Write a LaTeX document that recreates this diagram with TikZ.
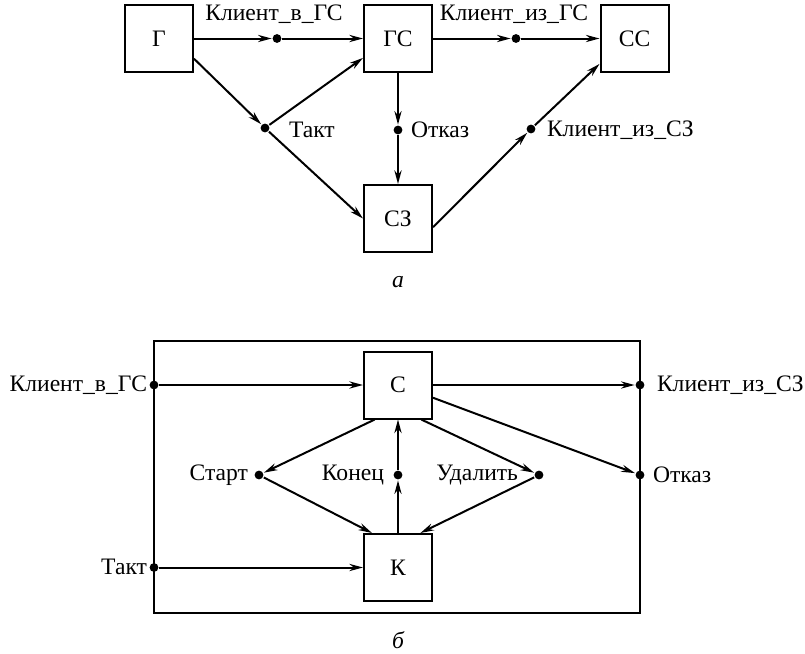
\documentclass[tikz,border=0pt]{standalone}
\usepackage{fontspec}
\setmainfont{Liberation Serif}
\usetikzlibrary{arrows.meta}
\begin{document}
\begin{tikzpicture}[x=0.5pt,y=-0.5pt,line width=1pt,
  blk/.style={draw,minimum width=34pt,minimum height=33.5pt,inner sep=0pt,font=\fontsize{11.8}{13}\selectfont},
  pt/.style={circle,fill,inner sep=0pt,minimum size=4.4pt},
  lbl/.style={inner sep=0pt,font=\fontsize{11.8}{13}\selectfont},
  arr/.style={-{Stealth[length=6.8pt,width=3.6pt]}}]
\useasboundingbox (0,0) rectangle (805,654);

% ---------- a ----------
\node[blk] (G)  at (159,38.5) {Г};
\node[blk] (GS) at (398,38.5) {ГС};
\node[blk] (CC) at (634.5,38.5) {СС};
\node[blk] (SZ) at (398,218.5) {СЗ};

\node[pt] (kvg) at (277,38.5) {};
\node[pt] (kig) at (516,38.5) {};
\node[pt] (takt) at (265,128) {};
\node[pt] (otk) at (398,130) {};
\node[pt] (kiz) at (531,129) {};

\node[lbl] at (274,14) {Клиент\_в\_ГС};
\node[lbl] at (514,14) {Клиент\_из\_ГС};
\node[lbl,anchor=west] at (288,130) {Такт};
\node[lbl,anchor=west] at (410,130) {Отказ};
\node[lbl,anchor=west] at (546,130) {Клиент\_из\_СЗ};
\node[lbl] at (398,282) {\itshape а};

\draw[arr] (G) -- (kvg);
\draw[arr] (kvg) -- (GS);
\draw[arr] (GS) -- (kig);
\draw[arr] (kig) -- (CC);
\draw[arr] (G.-30) -- (takt);
\draw[arr] (takt) -- (GS.209);
\draw[arr] (takt) -- (SZ.west);
\draw[arr] (GS) -- (otk);
\draw[arr] (otk) -- (SZ);
\draw[arr] (SZ.-14) -- (kiz);
\draw[arr] (kiz) -- (CC.216);

% ---------- b ----------
\draw (154,341) rectangle (640,613);
\node[blk] (S) at (398,385) {С};
\node[blk] (K) at (398,567.5) {К};

\node[pt] (bkvg) at (154,385) {};
\node[pt] (bkiz) at (640,385) {};
\node[pt] (botk) at (640,475) {};
\node[pt] (btakt) at (154,567.5) {};
\node[pt] (start) at (259,475) {};
\node[pt] (kon) at (398,475) {};
\node[pt] (udal) at (539,475) {};

\node[lbl,anchor=east] at (148,385) {Клиент\_в\_ГС};
\node[lbl,anchor=west] at (656,385) {Клиент\_из\_СЗ};
\node[lbl,anchor=west] at (652,475) {Отказ};
\node[lbl,anchor=east] at (148,567) {Такт};
\node[lbl,anchor=east] at (249,475) {Старт};
\node[lbl,anchor=east] at (385,475) {Конец};
\node[lbl,anchor=east] at (519,475) {Удалить};
\node[lbl] at (398,640) {\itshape б};

\draw[arr] (bkvg) -- (S);
\draw[arr] (S) -- (bkiz);
\draw[arr] (S.-20) -- (botk);
\draw[arr] (S.236) -- (start);
\draw[arr] (start) -- (K.127);
\draw[arr] (K) -- (kon);
\draw[arr] (kon) -- (S);
\draw[arr] (S.-56) -- (udal);
\draw[arr] (udal) -- (K.57);
\draw[arr] (btakt) -- (K);
\end{tikzpicture}
\end{document}
